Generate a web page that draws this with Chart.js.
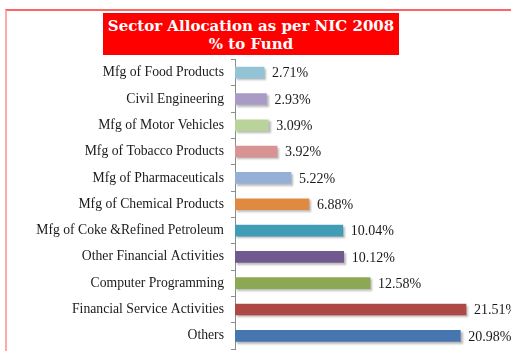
<!DOCTYPE html>
<html>
<head>
<meta charset="utf-8">
<script src="https://cdn.jsdelivr.net/npm/chart.js@4/dist/chart.umd.min.js"></script>
<style>
  html, body { margin: 0; padding: 0; background: #ffffff; }
  #wrap { position: relative; width: 511px; height: 351px; overflow: hidden; }
  #frame {
    position: absolute; left: 5px; top: 9px; width: 520px; height: 360px;
    border-top: 2px solid #ff6464; border-left: 2px solid #ffaaaa; box-sizing: border-box;
  }
  #title {
    position: absolute; left: 103px; top: 13px; width: 296px; height: 42px;
    background: #ff0000; color: #ffffff; text-align: center;
    font: bold 15px "DejaVu Serif", serif; line-height: 18px; padding-top: 4px; box-sizing: border-box;
  }
  canvas { position: absolute; left: 0; top: 0; }
</style>
</head>
<body>
<div id="wrap">
  <div id="frame"></div>
  <canvas id="c" width="511" height="351"></canvas>
  <div id="title">Sector Allocation as per NIC 2008<br>% to Fund</div>
</div>
<script>
const sectors = [
  "Mfg of Food Products",
  "Civil Engineering",
  "Mfg of Motor Vehicles",
  "Mfg of Tobacco Products",
  "Mfg of Pharmaceuticals",
  "Mfg of Chemical Products",
  "Mfg of Coke &Refined Petroleum",
  "Other Financial Activities",
  "Computer Programming",
  "Financial Service Activities",
  "Others"
];
const fundShare = [2.71, 2.93, 3.09, 3.92, 5.22, 6.88, 10.04, 10.12, 12.58, 21.51, 20.98];
const barColors = [
  "#93c4d6", "#a99bc5", "#bad39b", "#d79493", "#95b0d7", "#df8a40",
  "#419db5", "#71598f", "#8ca852", "#ae4846", "#4675b0"
];

// soft drop shadow under the bars
const barShadow = {
  id: "barShadow",
  beforeDatasetDraw(chart) {
    const ctx = chart.ctx;
    ctx.save();
    ctx.shadowColor = "rgba(0,0,0,0.28)";
    ctx.shadowOffsetX = 2;
    ctx.shadowOffsetY = 2;
    ctx.shadowBlur = 2;
  },
  afterDatasetDraw(chart) {
    chart.ctx.restore();
  }
};

// percentage text at the end of each bar
const valueLabels = {
  id: "valueLabels",
  afterDatasetsDraw(chart) {
    const ctx = chart.ctx;
    const meta = chart.getDatasetMeta(0);
    ctx.save();
    ctx.font = "14px 'Liberation Serif', serif";
    ctx.fillStyle = "#1a1a1a";
    ctx.textAlign = "left";
    ctx.textBaseline = "middle";
    meta.data.forEach((bar, i) => {
      ctx.fillText(fundShare[i].toFixed(2) + "%", bar.x + 8, bar.y + 1);
    });
    ctx.restore();
  }
};

new Chart(document.getElementById("c"), {
  type: "bar",
  data: {
    labels: sectors,
    datasets: [{
      data: fundShare,
      backgroundColor: barColors,
      borderWidth: 0,
      barThickness: 11
    }]
  },
  options: {
    indexAxis: "y",
    responsive: false,
    animation: false,
    layout: { padding: { left: 8, right: 7.5, top: 59.5, bottom: 2 } },
    plugins: { legend: { display: false }, tooltip: { enabled: false } },
    scales: {
      x: { display: false, min: 0, max: 25 },
      y: {
        afterFit(scale) {
          scale.width = 227;
          scale.paddingTop = 0;
          scale.paddingBottom = 0;
        },
        grid: { drawOnChartArea: false, drawTicks: true, tickLength: 4, color: "#8c8c8c", offset: true },
        border: { display: true, color: "#8c8c8c", width: 1 },
        ticks: { color: "#1a1a1a", padding: 7, font: { family: "'Liberation Serif', serif", size: 13.7 } }
      }
    }
  },
  plugins: [barShadow, valueLabels]
});
</script>
</body>
</html>
